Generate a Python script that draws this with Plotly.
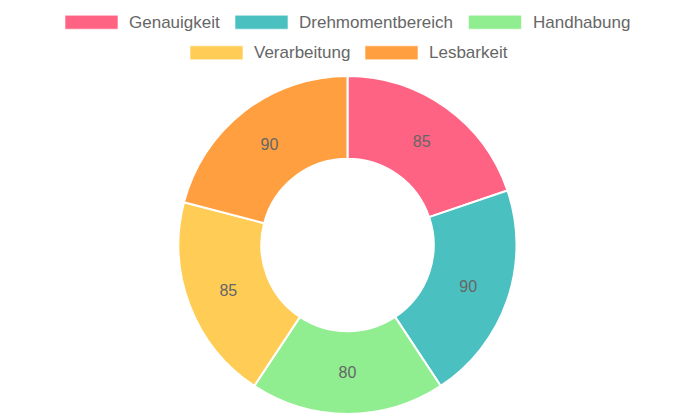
import plotly.graph_objects as go

categories = ["Genauigkeit", "Drehmomentbereich", "Handhabung", "Verarbeitung", "Lesbarkeit"]
values = [85, 90, 80, 85, 90]
colors = ["#FF6384", "#4BC0C0", "#90EE90", "#FFCD56", "#FF9F40"]

W, H = 695, 417

fig = go.Figure(go.Pie(
    labels=categories,
    values=values,
    hole=0.51,
    sort=False,
    direction="clockwise",
    rotation=0,
    marker=dict(colors=colors, line=dict(color="#FFFFFF", width=2)),
    textinfo="value",
    textposition="inside",
    insidetextorientation="horizontal",
    textfont=dict(family="Liberation Sans, Arial, sans-serif", size=16, color="#666666"),
    domain=dict(x=[0, 1], y=[3 / H, 341 / H]),
    showlegend=False,
    hoverinfo="label+value",
))

# custom Chart.js-style legend (two centred rows)
legend_rows = [[0, 1, 2], [3, 4]]
box_left = {0: 65, 1: 235, 2: 468.5, 3: 190, 4: 365}
row_y = {0: 22.2, 1: 52.8}
shapes, annotations = [], []
for r, idxs in enumerate(legend_rows):
    for i in idxs:
        x0 = box_left[i]
        yc = row_y[r]
        shapes.append(dict(type="rect", xref="paper", yref="paper",
                           x0=x0 / W, x1=(x0 + 53) / W,
                           y0=1 - (yc + 7) / H, y1=1 - (yc - 7) / H,
                           fillcolor=colors[i], line=dict(color="rgba(255,255,255,0.6)", width=1)))
        annotations.append(dict(xref="paper", yref="paper", x=(x0 + 62) / W, y=1 - yc / H,
                                xanchor="left", yanchor="middle", showarrow=False,
                                text=categories[i],
                                font=dict(family="Liberation Sans, Arial, sans-serif", size=17, color="#666666")))

fig.update_layout(
    width=W, height=H,
    margin=dict(l=0, r=0, t=0, b=0),
    paper_bgcolor="white",
    plot_bgcolor="white",
    shapes=shapes,
    annotations=annotations,
)

fig.write_html("out.html")
